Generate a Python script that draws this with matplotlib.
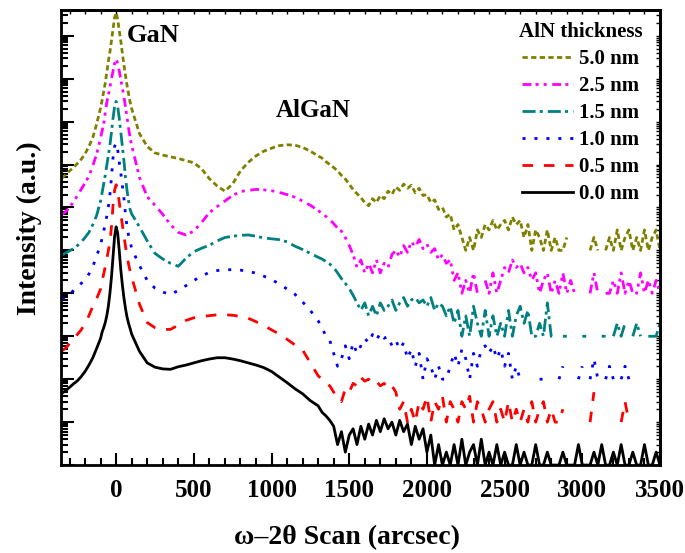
import numpy as np
import matplotlib
matplotlib.use('Agg')
import matplotlib.pyplot as plt
from matplotlib.ticker import MultipleLocator, LogLocator, NullFormatter

plt.rcParams['font.family'] = ['Liberation Serif', 'DejaVu Serif']
plt.rcParams['font.weight'] = 'bold'
plt.rcParams['axes.labelweight'] = 'bold'
plt.rcParams['mathtext.default'] = 'regular'

# scan positions (arcsec): coarse wings, fine around the GaN peak, then the noisy tail
x_head = np.concatenate([np.arange(-350, -99, 25), np.arange(-90, 91, 10), np.arange(100, 1301, 50)])
x_tail = np.arange(1325, 3501, 25)

labels = ['5.0 nm', '2.5 nm', '1.5 nm', '1.0 nm', '0.5 nm', '0.0 nm']
offsets = [1e5, 1e4, 1e3, 1e2, 1e1, 1e0]

# log10(counts) up to 1300 arcsec
head_50 = [1.68, 1.76, 1.85, 1.93, 2.02, 2.12, 2.25, 2.42, 2.63, 2.95, 3.32,
           3.50, 3.70, 3.90, 4.15, 4.40, 4.62, 4.88, 5.15, 5.42, 5.54, 5.38, 5.12, 4.88, 4.60, 4.32, 4.08, 3.85, 3.65, 3.45,
           3.30, 2.72, 2.42, 2.27, 2.22, 2.18, 2.14, 2.09, 2.04, 1.90, 1.67, 1.50, 1.38, 1.55, 1.85, 2.05, 2.20, 2.31,
           2.38, 2.44, 2.46, 2.45, 2.40, 2.31, 2.20]
head_25 = [1.83, 1.90, 2.00, 2.13, 2.27, 2.42, 2.57, 2.73, 2.97, 3.25, 3.62,
           3.78, 3.95, 4.20, 4.45, 4.62, 4.80, 5.00, 5.17, 5.35, 5.46, 5.35, 5.18, 4.98, 4.78, 4.58, 4.35, 4.10, 3.85, 3.62,
           3.45, 2.70, 2.25, 2.05, 1.84, 1.60, 1.42, 1.36, 1.45, 1.65, 1.88, 2.02, 2.15, 2.28, 2.37, 2.40, 2.42, 2.41,
           2.39, 2.35, 2.30, 2.24, 2.15, 2.05, 1.93]
head_15 = [1.89, 1.94, 1.99, 2.04, 2.11, 2.19, 2.30, 2.42, 2.60, 2.82, 3.15,
           3.35, 3.55, 3.75, 3.98, 4.20, 4.45, 4.75, 5.08, 5.35, 5.47, 5.35, 5.08, 4.75, 4.42, 4.10, 3.70, 3.40, 3.15, 2.95,
           2.85, 2.55, 2.22, 1.93, 1.80, 1.70, 1.63, 1.82, 1.97, 2.05, 2.12, 2.22, 2.30, 2.33, 2.35, 2.36, 2.33, 2.29,
           2.27, 2.25, 2.20, 2.10, 2.02, 1.93, 1.84]
head_10 = [1.86, 1.92, 1.99, 2.06, 2.14, 2.23, 2.32, 2.45, 2.62, 2.88, 3.12,
           3.30, 3.45, 3.62, 3.80, 4.02, 4.30, 4.70, 5.15, 5.42, 5.50, 5.35, 5.05, 4.80, 4.50, 4.22, 3.85, 3.55, 3.35, 3.20,
           3.05, 2.65, 2.30, 2.12, 2.03, 1.97, 2.07, 2.18, 2.30, 2.40, 2.49, 2.53, 2.55, 2.55, 2.54, 2.51, 2.47, 2.40,
           2.32, 2.22, 2.10, 1.98, 1.80, 1.60, 1.36]
head_05 = [1.66, 1.72, 1.83, 1.93, 2.04, 2.15, 2.30, 2.48, 2.70, 2.88, 3.10,
           3.30, 3.45, 3.62, 3.80, 4.00, 4.18, 4.55, 5.05, 5.40, 5.53, 5.40, 5.12, 4.85, 4.60, 4.35, 4.10, 3.88, 3.68, 3.52,
           3.38, 2.75, 2.32, 2.20, 2.16, 2.16, 2.26, 2.37, 2.43, 2.46, 2.48, 2.50, 2.50, 2.49, 2.46, 2.42, 2.34, 2.25,
           2.15, 2.05, 1.93, 1.80, 1.68, 1.38, 1.08]
head_00 = [1.67, 1.73, 1.81, 1.89, 1.96, 2.06, 2.18, 2.33, 2.50, 2.72, 2.95,
           3.10, 3.20, 3.32, 3.48, 3.70, 4.00, 4.38, 4.85, 5.32, 5.55, 5.40, 5.00, 4.55, 4.20, 3.90, 3.65, 3.45, 3.30, 3.18,
           3.05, 2.65, 2.38, 2.28, 2.24, 2.23, 2.29, 2.33, 2.38, 2.43, 2.47, 2.50, 2.50, 2.47, 2.43, 2.38, 2.33, 2.27,
           2.18, 2.05, 1.92, 1.78, 1.66, 1.50, 1.38]

# raw counts from 1325 arcsec on (0 = no count, left as a gap)
tail_50 = [141, 117, 100, 85, 71, 56, 46, 35, 26, 21, 17, 13, 11, 16, 13, 19,
           16, 24, 20, 30, 25, 35, 28, 33, 22, 28, 19, 20, 13, 15, 9, 10,
           6, 7, 3, 4, 2, 1, 2, 1, 3, 2, 4, 3, 5, 3, 4, 5,
           3, 6, 4, 5, 2, 4, 1, 3, 2, 1, 3, 1, 2, 1, 1, 2,
           0, 1, 0, 1, 0, 1, 2, 1, 0, 1, 2, 1, 3, 1, 2, 3,
           1, 2, 1, 3, 1, 2, 3, 1]
tail_25 = [72, 62, 52, 42, 33, 28, 20, 13, 8, 4, 6, 3, 5, 3, 6, 3,
           5, 4, 8, 10, 7, 13, 9, 16, 12, 18, 11, 14, 9, 11, 6, 8,
           5, 6, 2, 3, 1, 2, 1, 3, 1, 0, 2, 1, 3, 1, 2, 4,
           3, 6, 4, 5, 3, 4, 2, 3, 1, 2, 3, 1, 2, 1, 3, 1,
           2, 1, 0, 1, 0, 1, 3, 1, 0, 1, 1, 2, 1, 3, 1, 2,
           1, 1, 3, 1, 2, 1, 2, 1]
tail_15 = [63, 55, 48, 40, 30, 22, 17, 13, 9, 6, 4, 6, 3, 5, 3, 6,
           4, 5, 7, 4, 6, 8, 5, 7, 8, 6, 7, 5, 8, 4, 6, 5,
           3, 5, 2, 4, 1, 3, 1, 5, 2, 1, 4, 1, 3, 1, 2, 1,
           4, 1, 3, 5, 2, 4, 1, 1, 2, 1, 6, 1, 1, 0, 1, 1,
           0, 1, 0, 1, 1, 0, 1, 0, 1, 1, 0, 1, 2, 1, 2, 0,
           1, 2, 1, 0, 1, 1, 1, 2]
tail_10 = [16, 10, 8, 4, 2, 3, 6, 3, 7, 4, 6, 9, 7, 11, 8, 12,
           9, 10, 6, 8, 5, 7, 3, 5, 2, 4, 1, 3, 2, 1, 2, 1,
           1, 2, 4, 2, 5, 3, 1, 4, 2, 5, 6, 4, 6, 3, 5, 2,
           4, 1, 2, 1, 1, 0, 1, 0, 1, 1, 0, 1, 0, 1, 2, 0,
           1, 0, 1, 2, 0, 1, 3, 1, 0, 1, 2, 1, 0, 1, 2, 1,
           0, 1, 0, 1, 0, 1, 0, 1]
tail_05 = [10, 8, 7, 5, 4, 3, 6, 5, 8, 7, 11, 9, 10, 8, 9, 7,
           8, 6, 7, 5, 2, 3, 1, 2, 1, 3, 2, 4, 1, 3, 2, 4,
           1, 3, 2, 1, 3, 2, 4, 1, 3, 2, 1, 2, 3, 1, 2, 1,
           3, 1, 2, 1, 2, 1, 3, 1, 2, 3, 1, 2, 1, 1, 2, 0,
           1, 0, 1, 0, 0, 1, 5, 0, 1, 0, 0, 1, 0, 1, 3, 1,
           0, 0, 0, 0, 0, 0, 0, 0]
tail_00 = [17, 14, 11, 8, 3, 6, 2, 5, 7, 3, 8, 4, 9, 5, 11, 6,
           12, 7, 10, 5, 11, 6, 9, 3, 8, 4, 7, 2, 5, 1, 3, 1,
           2, 1, 3, 1, 4, 1, 2, 3, 1, 4, 1, 2, 1, 3, 1, 2,
           1, 1, 3, 1, 2, 1, 1, 3, 1, 1, 2, 1, 1, 1, 2, 1,
           1, 1, 3, 1, 1, 1, 2, 1, 3, 1, 1, 2, 1, 3, 1, 1,
           2, 1, 1, 3, 1, 1, 2, 1]

heads = [head_50, head_25, head_15, head_10, head_05, head_00]
tails = [tail_50, tail_25, tail_15, tail_10, tail_05, tail_00]

colors = ['#808000', '#FF00FF', '#008080', '#0000FF', '#FF0000', '#000000']
styles = [(0, (1.9, 1.2)), (0, (3.2, 1.5, 1.1, 1.8, 1.1, 2.0)), (0, (4.7, 1.5, 1.1, 1.8)),
          (0, (1.1, 3.2)), (0, (3.8, 3.9)), '-']

x = np.concatenate([x_head, x_tail])

fig = plt.figure(figsize=(6.85, 5.53), dpi=100)
ax = fig.add_subplot(111)
fig.subplots_adjust(left=0.089, right=0.9635, top=0.982, bottom=0.159)

# stack the scans: each thickness shifted up by one decade
for lab, head, tail, off, col, ls in zip(labels, heads, tails, offsets, colors, styles):
    counts = np.concatenate([10 ** np.array(head), np.array(tail, dtype=float)])
    counts[counts <= 0] = np.nan
    ax.plot(x, counts * off, color=col, linestyle=ls, lw=2.0, label=lab)

ax.set_yscale('log')
ax.set_xlim(-355, 3500)
ax.set_ylim(1, 10 ** 10.6)

ax.xaxis.set_major_locator(MultipleLocator(500))
ax.xaxis.set_minor_locator(MultipleLocator(100))
ax.yaxis.set_major_locator(LogLocator(base=10, numticks=20))
ax.yaxis.set_minor_locator(LogLocator(base=10, subs=np.arange(2, 10), numticks=20))
ax.yaxis.set_major_formatter(NullFormatter())
ax.yaxis.set_minor_formatter(NullFormatter())

ax.tick_params(which='both', direction='in', width=1.5)
ax.tick_params(which='major', length=9)
ax.tick_params(which='minor', length=5)
ax.tick_params(axis='x', labelsize=18, pad=10)
for sp in ax.spines.values():
    sp.set_linewidth(2)

# small ticks on top and right
top = ax.secondary_xaxis('top')
top.xaxis.set_major_locator(MultipleLocator(100))
top.tick_params(direction='in', length=3, width=1, labeltop=False)
right = ax.secondary_yaxis('right')
right.yaxis.set_major_locator(LogLocator(base=10, numticks=20))
right.yaxis.set_minor_locator(LogLocator(base=10, subs=np.arange(2, 10), numticks=20))
right.yaxis.set_major_formatter(NullFormatter())
right.yaxis.set_minor_formatter(NullFormatter())
right.tick_params(which='both', direction='in', length=3, width=1)
for a in (top, right):
    for sp in a.spines.values():
        sp.set_linewidth(2)

ax.set_xlabel('ω–2θ Scan (arcsec)', fontsize=20, labelpad=17)
ax.set_ylabel('Intensity (a.u.)', fontsize=20, labelpad=10)
ax.xaxis.label.set_x(0.477)
ax.yaxis.label.set_y(0.52)

ax.text(240, 1e10, 'GaN', fontsize=19, ha='center', va='center')
ax.text(1266, 1.8e8, 'AlGaN', fontsize=18, ha='center', va='center')

ax.legend(loc='upper right', bbox_to_anchor=(1.0, 1.013), frameon=False, title='AlN thickness',
          title_fontproperties={'weight': 'bold', 'size': 15},
          prop={'weight': 'bold', 'size': 15},
          handlelength=2.45, handletextpad=0.25, labelspacing=0.34,
          borderaxespad=0.55, borderpad=0.3)

plt.savefig('out.png', dpi=100)
